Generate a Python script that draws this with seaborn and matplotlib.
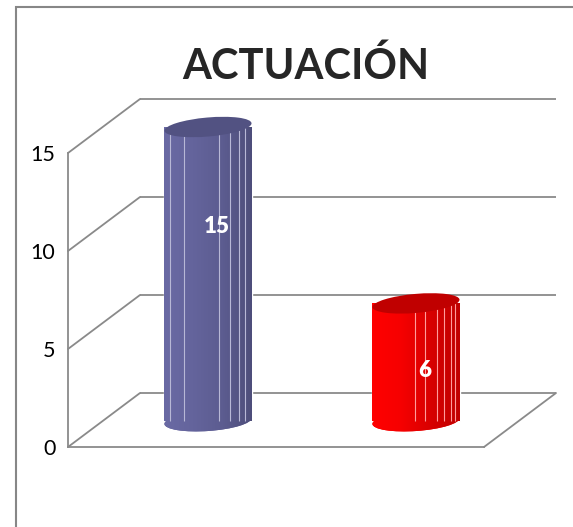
import matplotlib
matplotlib.use("Agg")
import matplotlib.pyplot as plt
import matplotlib.transforms as mtransforms
from matplotlib.patches import Ellipse, Rectangle, ConnectionPatch
from matplotlib.colors import LinearSegmentedColormap
import numpy as np
import seaborn as sns

# data
categories = ["Serie 1", "Serie 2"]
values = [15, 6]
yticks = [0, 5, 10, 15]
title = "ACTUACIÓN"

# styling
bar_colors = ["#64649C", "#F00000"]
shade_colors = [["#6A6AA4", "#64649C", "#5C5C90", "#4E4E7A"],
                ["#FF0000", "#F60000", "#D80000", "#C00000"]]
top_colors = ["#525282", "#C00000"]
facet_colors = ["#B8B8D6", "#FF9C9C"]
facet_fracs = [[0.065, 0.23, 0.63, 0.75, 0.85, 0.92],
               [0.49, 0.60, 0.74, 0.82, 0.90, 0.95]]
label_y = [9.9, 2.6]
grid_color = "#8A8A8A"

sns.set_style("white")
plt.rcParams['font.family'] = ['Lato', 'DejaVu Sans']

W, H = 573, 527
PX = 19.6  # pixels per unit on y
fig = plt.figure(figsize=(W / 100, H / 100), dpi=100)


def add_plane(left, zero_px):
    ax = fig.add_axes([left / W, (H - zero_px - PX) / H, 416 / W, 17 * PX / H])
    ax.set_xlim(-0.5, 1.5)
    ax.set_ylim(-1, 16)
    ax.patch.set_alpha(0)
    return ax


ax_back = add_plane(140, 393)
ax_front = add_plane(68, 447)
ax_mid = add_plane(104, 421)
ax_back.set_zorder(0)
ax_front.set_zorder(0.5)
ax_mid.set_zorder(1)

# back wall gridlines
for s in ax_back.spines.values():
    s.set_visible(False)
ax_back.set_xticks([])
ax_back.set_yticks(yticks)
ax_back.tick_params(left=False, labelleft=False)
ax_back.grid(axis='y', color=grid_color, lw=1.3)

# front axis + floor edge
ax_front.spines['top'].set_visible(False)
ax_front.spines['right'].set_visible(False)
ax_front.spines['left'].set_bounds(0, 15)
ax_front.spines['bottom'].set_position(('data', 0))
for side in ['left', 'bottom']:
    ax_front.spines[side].set_color(grid_color)
    ax_front.spines[side].set_linewidth(1.3)
ax_front.set_xticks([])
ax_front.set_yticks(yticks)
ax_front.tick_params(axis='y', length=4, width=1.3, color=grid_color,
                     labelsize=15.5, pad=5, labelcolor='black')

# side wall / floor diagonals
for v in yticks:
    fig.add_artist(ConnectionPatch(xyA=(-0.5, v), coordsA=ax_front.transData,
                                   xyB=(-0.5, v), coordsB=ax_back.transData,
                                   color=grid_color, lw=1.3))
fig.add_artist(ConnectionPatch(xyA=(1.5, 0), coordsA=ax_front.transData,
                               xyB=(1.5, 0), coordsB=ax_back.transData,
                               color=grid_color, lw=1.3))

# cylinders
sns.barplot(x=categories, y=values, hue=categories, palette=bar_colors,
            width=0.42, saturation=1, legend=False, ax=ax_mid)
ax_mid.set_xlim(-0.5, 1.5)
ax_mid.set_ylim(-1, 16)
ax_mid.axis('off')


def px_ellipse(ax, x, y, w, h_px, angle, **kw):
    cx, cy = ax.transData.transform((x, y))
    x_left = ax.transData.transform((x - w / 2, y))[0]
    x_right = ax.transData.transform((x + w / 2, y))[0]
    e = Ellipse((cx, cy), x_right - x_left, h_px, angle=angle,
                transform=mtransforms.IdentityTransform(), **kw)
    return e


for i, bar in enumerate(ax_mid.patches):
    x0, w, v = bar.get_x(), bar.get_width(), bar.get_height()
    xc = x0 + w / 2
    cmap = LinearSegmentedColormap.from_list(f"c{i}", shade_colors[i])
    grad = np.linspace(0, 1, 256)[None, :]

    bottom = px_ellipse(ax_mid, xc, 0, w, 20, 4, fc=shade_colors[i][1], ec='none', zorder=2)
    ax_mid.add_patch(bottom)
    for clip in (bar, bottom):
        img = ax_mid.imshow(grad, cmap=cmap, extent=(x0, x0 + w, -1, v), aspect='auto',
                            origin='lower', interpolation='bilinear', zorder=3)
        img.set_clip_path(clip)
    ax_mid.vlines([x0 + f * w for f in facet_fracs[i]], 0, v,
                  color=facet_colors[i], lw=0.8, zorder=4)
    top = px_ellipse(ax_mid, xc, v, w, 19, 5, fc=top_colors[i], ec='none', zorder=5)
    ax_mid.add_patch(top)
    ax_mid.text(i + 0.043, label_y[i], f"{v:g}", ha='center', va='center',
                color='white', fontsize=16, fontweight='heavy', zorder=6)

ax_mid.set_xlim(-0.5, 1.5)
ax_mid.set_ylim(-1, 16)

# title and frame
fig.text(306 / W, 1 - 79 / H, title, ha='center', va='baseline',
         fontsize=30, fontweight='bold')
fig.add_artist(Rectangle((16 / W, -0.5), 2, 1.5 - 7 / H, transform=fig.transFigure,
                         fill=False, ec='#878787', lw=1.5))

fig.savefig("out.png", dpi=100)
